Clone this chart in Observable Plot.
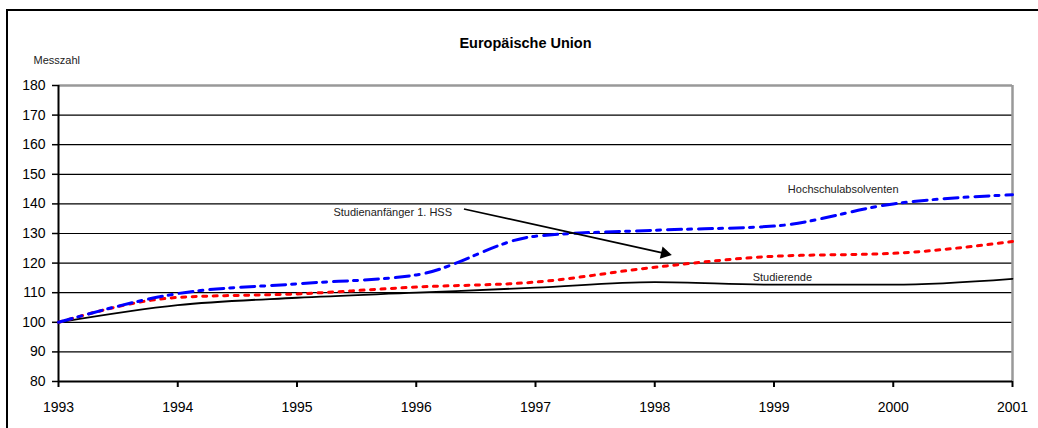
<!DOCTYPE html>
<html>
<head>
<meta charset="utf-8">
<script src="https://cdn.jsdelivr.net/npm/d3@7"></script>
<script src="https://cdn.jsdelivr.net/npm/@observablehq/plot@0.6"></script>
<style>
  html, body { margin: 0; padding: 0; background: #fff; overflow: hidden; }
  #wrap { position: relative; width: 1038px; height: 428px; }
  #border { position: absolute; left: 6px; top: 9px; width: 1100px; height: 500px; border: 2px solid #000; box-sizing: border-box; }
  #chart { position: absolute; left: 0; top: 0; }
</style>
</head>
<body>
<div id="wrap">
  <div id="border"></div>
  <div id="chart"></div>
</div>
<script>
// ---- data ----
const years = [1993, 1994, 1995, 1996, 1997, 1998, 1999, 2000, 2001];
const studierende = [100, 105.8, 108.3, 110.0, 111.7, 113.6, 112.7, 112.7, 114.7];
const studienanfaenger = [100, 108.4, 109.6, 111.9, 113.6, 118.6, 122.3, 123.3, 127.3];
const hochschulabsolventen = [100, 109.7, 113.0, 116.0, 129.1, 131.1, 132.5, 140.0, 143.1];
const yTicks = [80, 90, 100, 110, 120, 130, 140, 150, 160, 170, 180];
const gridValues = [90, 100, 110, 120, 130, 140, 150, 160, 170];
const title = "Europäische Union";
const yLabel = "Messzahl";
const labelTexts = ["Hochschulabsolventen", "Studierende", "Studienanfänger 1. HSS"];
const labelX = [1999.58, 1999.07, 1996.30];
const labelY = [144.9, 115.0, 137.2];
const arrowFrom = [1996.40, 138.3];
const arrowTo = [1998.16, 122.6];

const rows = (vals) => years.map((yr, i) => ({year: yr, value: vals[i]}));
const centeredLabels = [0, 1].map(i => ({t: labelTexts[i], x: labelX[i], y: labelY[i]}));
const endLabels = [2].map(i => ({t: labelTexts[i], x: labelX[i], y: labelY[i]}));

const HEAD = 14; // arrowhead length in px

function makePlot(arrowMarks) {
  return Plot.plot({
    width: 1038,
    height: 428,
    marginLeft: 58,
    marginRight: 26,
    marginTop: 85,
    marginBottom: 47,
    style: {fontFamily: "'Liberation Sans', Arial, sans-serif", fontSize: "14px", background: "transparent", color: "#000"},
    x: {domain: [1993, 2001]},
    y: {domain: [80, 180]},
    marks: [
      Plot.ruleY(gridValues, {stroke: "#000", strokeWidth: 1.2}),
      Plot.ruleY([180], {stroke: "#999", strokeWidth: 2.5}),
      Plot.ruleX([2001], {y1: 80, y2: 180, stroke: "#999", strokeWidth: 2.5}),
      Plot.ruleX([1993], {y1: 80, y2: 180, stroke: "#000", strokeWidth: 2}),
      Plot.ruleY([80], {stroke: "#000", strokeWidth: 2}),
      Plot.axisX({ticks: years, tickFormat: d => String(d), tickSize: 6, tickPadding: 15, strokeWidth: 2, label: null, fontSize: 14}),
      Plot.axisY({ticks: yTicks, tickSize: 6, tickPadding: 7, strokeWidth: 1.5, label: null, fontSize: 14}),
      Plot.line(rows(studierende), {x: "year", y: "value", stroke: "#000", strokeWidth: 1.8, curve: "monotone-x"}),
      Plot.line(rows(studienanfaenger), {x: "year", y: "value", stroke: "#ff0000", strokeWidth: 3, strokeDasharray: "4,6.5", curve: "monotone-x"}),
      Plot.line(rows(hochschulabsolventen), {x: "year", y: "value", stroke: "#0000ff", strokeWidth: 3, strokeDasharray: "14,6,4,7", curve: "monotone-x"}),
      ...arrowMarks,
      Plot.text(centeredLabels, {x: "x", y: "y", text: "t", textAnchor: "middle", fontSize: 11, fill: "#222"}),
      Plot.text(endLabels, {x: "x", y: "y", text: "t", textAnchor: "end", fontSize: 11, fill: "#222"}),
      Plot.text([title], {frameAnchor: "top", dx: -10, dy: -48, text: d => d, fontSize: 14.5, fontWeight: "bold", fill: "#000"}),
      Plot.text([yLabel], {frameAnchor: "top-left", dx: -25, dy: -29, textAnchor: "start", text: d => d, fontSize: 11, fill: "#222"})
    ]
  });
}

// first pass: get the scales to orient the arrowhead
const probe = makePlot([]);
const toFn = (s) => s.apply ? (v) => s.apply(v) : d3.scaleLinear(s.domain, s.range);
const fromFn = (s) => s.invert ? (v) => s.invert(v) : d3.scaleLinear(s.range, s.domain);
const sx = probe.scale("x"), sy = probe.scale("y");
const X = toFn(sx), Y = toFn(sy), IX = fromFn(sx), IY = fromFn(sy);
const px1 = X(arrowFrom[0]), py1 = Y(arrowFrom[1]);
const px2 = X(arrowTo[0]), py2 = Y(arrowTo[1]);
const len = Math.hypot(px2 - px1, py2 - py1);
const ux = (px2 - px1) / len, uy = (py2 - py1) / len;
const angle = Math.atan2(uy, ux) * 180 / Math.PI + 90;
// centroid of equilateral triangle sits 2/3 of its height behind the tip
const cx = IX(px2 - ux * HEAD * 2 / 3), cy = IY(py2 - uy * HEAD * 2 / 3);
const triR = Math.sqrt((HEAD / 3) * (HEAD / 3) * 3 * Math.sqrt(3) / Math.PI);

const plot = makePlot([
  Plot.link([{x1: arrowFrom[0], y1: arrowFrom[1], x2: cx, y2: cy}], {x1: "x1", y1: "y1", x2: "x2", y2: "y2", stroke: "#000", strokeWidth: 1.6}),
  Plot.dot([{x: cx, y: cy}], {x: "x", y: "y", symbol: "triangle2", r: triR, fill: "#000", stroke: "none", rotate: angle})
]);

document.getElementById("chart").appendChild(plot);
</script>
</body>
</html>
